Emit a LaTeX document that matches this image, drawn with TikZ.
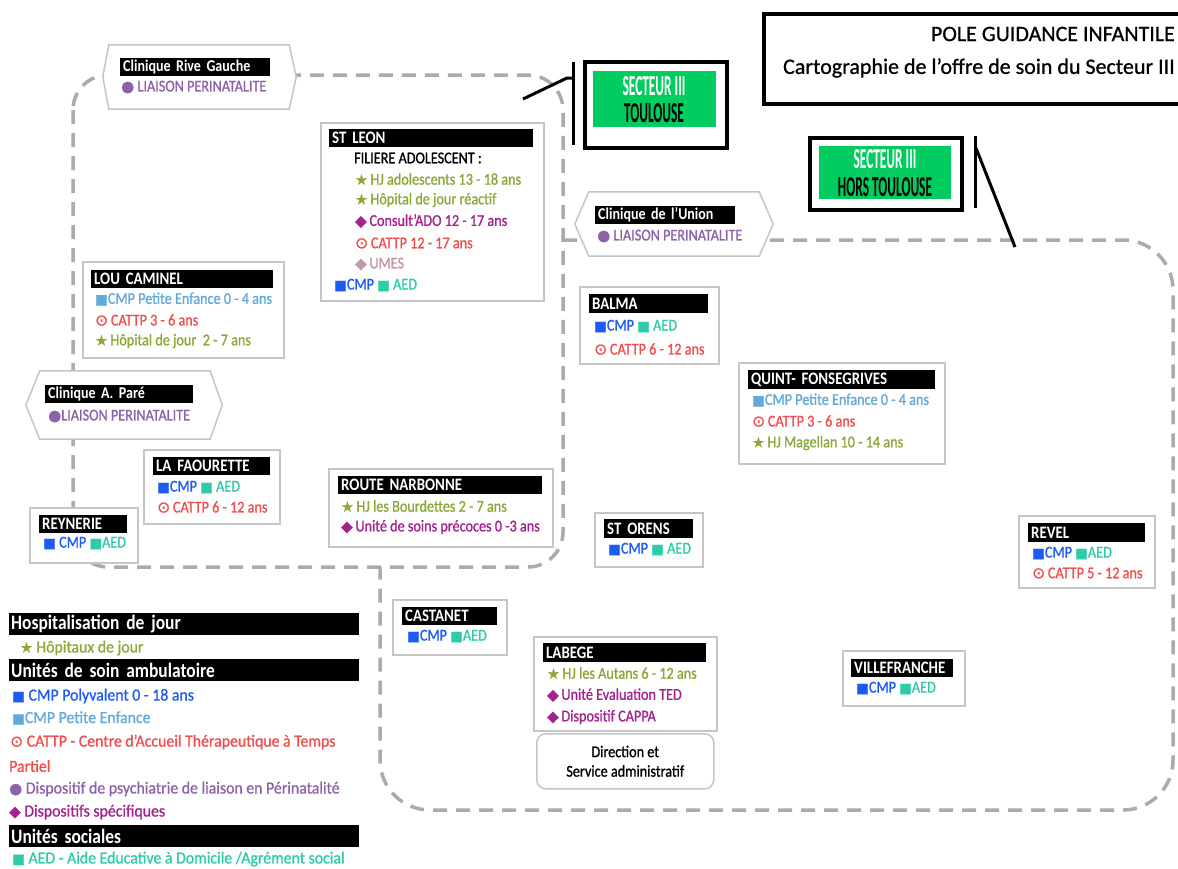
\documentclass[tikz,border=0pt]{standalone}
\usepackage{fontspec}
\setmainfont{Carlito}
\newfontfamily\itf{Carlito}[FakeStretch=0.86, FakeBold=1]
\newfontfamily\lgf{Carlito}[FakeStretch=0.93, FakeBold=1]
\newfontfamily\ttf{Carlito}[FakeBold=0.8]
\newfontfamily\hdf{Carlito}[FakeStretch=0.85]
\newfontfamily\secf{Carlito}[FakeStretch=0.46]
\newfontfamily\symf{DejaVu Sans}[FakeBold=1.2]
\newcommand\fz[1]{\fontsize{#1}{#1}\selectfont}
\newcommand\Ist{{\symf\fz{14}★}}
\newcommand\Isq{{\symf\fz{13.5}■}}
\newcommand\Idi{{\symf\fz{15}◆}}
\newcommand\Ici{{\symf\fz{15}●}}
\newcommand\Iod{{\symf\fz{15.5}⊙}}
\definecolor{hjg}{HTML}{8BA83A}
\definecolor{magc}{HTML}{A3238E}
\definecolor{redc}{HTML}{F04E4E}
\definecolor{umes}{HTML}{C496A9}
\definecolor{cmpb}{HTML}{1E5BF5}
\definecolor{aedc}{HTML}{2ECBA8}
\definecolor{peb}{HTML}{63A9DA}
\definecolor{liais}{HTML}{8C63A8}
\definecolor{boxg}{HTML}{C6C6C6}
\definecolor{dashg}{HTML}{ABABAB}
\definecolor{secg}{HTML}{00CC5F}
\newcommand\cmpaed{{\color{cmpb}\Isq CMP} {\color{aedc}\Isq\ AED}}
\tikzset{
  region/.style={draw=dashg, line width=3.5pt, dash pattern=on 14pt off 9pt},
  box/.style={draw=boxg, line width=1.5pt, fill=white, anchor=north west, inner sep=0pt},
  hdr/.style={fill=black, text=white, anchor=north west, inner xsep=3pt, inner ysep=0pt,
    minimum height=18pt, align=left, font=\hdf\bfseries\fz{17.5}},
  chdr/.style={hdr, font=\hdf\bfseries\fz{16.5}},
  lhdr/.style={fill=black, text=white, anchor=north west, inner xsep=2pt, inner ysep=0pt,
    minimum height=22pt, align=left, text width=346pt, font=\hdf\bfseries\fz{20.5}},
  it/.style={anchor=west, inner sep=0pt, font=\itf\fz{16.5}},
  lit/.style={anchor=west, inner sep=0pt, font=\lgf\fz{17}},
  hexn/.style={inner sep=0pt},
  hexb/.style={draw=boxg, line width=1.5pt, fill=white},
  frame/.style={draw=black, line width=4pt, fill=white, anchor=north west, inner sep=0pt},
  secbox/.style={fill=secg, anchor=north west, inner sep=0pt},
  sect/.style={inner sep=0pt, font=\secf\bfseries\fz{29}},
  bar/.style={line width=3pt, black}
}
\begin{document}
\begin{tikzpicture}[x=1pt,y=-1pt]
\useasboundingbox (0,0) rectangle (1178,868);
% ---------- dashed regions ----------
\draw[region, rounded corners=35pt] (73,75) rectangle (563,567);
\draw[region, rounded corners=50pt] (563,240) -- (1173,240) -- (1173,810) -- (380,810) -- (380,567);

% ---------- title ----------
\node[frame, minimum width=450pt, minimum height=90pt] (title) at (762,12) {};
\node[anchor=east, inner sep=0pt, font=\ttf\fz{22}] (t1) at (1175,34) {POLE GUIDANCE INFANTILE};
\node[anchor=east, inner sep=0pt, font=\ttf\fz{22}] (t2) at (1175,68) {Cartographie de l’offre de soin du Secteur III};

% ---------- secteur boxes ----------
\node[frame, minimum width=142pt, minimum height=86pt] (stl) at (583,60) {};
\node[secbox, minimum width=123pt, minimum height=56pt] (stlg) at (593,71) {};
\node[sect, text=white] (stl1) at (654,86) {SECTEUR III};
\node[sect, text=black] (stl2) at (654,113) {TOULOUSE};
\coordinate (tbt) at (573,62);
\coordinate (tbb) at (573,145);
\coordinate (tc1) at (523,99);
\coordinate (tc2) at (567,78);
\draw[bar] (tbt) -- (tbb);
\draw[bar] (tc1) -- (tc2) -- (tc2 -| tbt);

\node[frame, minimum width=152pt, minimum height=72pt] (sht) at (808,136) {};
\node[secbox, minimum width=132pt, minimum height=53pt] (shtg) at (819,146) {};
\node[sect, text=white] (sht1) at (885,159) {SECTEUR III};
\node[sect, text=black] (sht2) at (885,187) {HORS TOULOUSE};
\coordinate (hbt) at (975,136);
\coordinate (hbb) at (975,208);
\coordinate (hc1) at (976,148);
\coordinate (hc2) at (1015,247);
\draw[bar] (hbt) -- (hbb);
\draw[bar] (hc1) -- (hc2);

% ---------- hexagons (cliniques) ----------
\node[hexn, minimum width=193pt, minimum height=64pt] (rg) at (199.5,77) {};
\draw[hexb] (rg.west) -- ([xshift=6pt]rg.north west) -- ([xshift=-7pt]rg.north east) -- (rg.east)
  -- ([xshift=-7pt]rg.south east) -- ([xshift=6pt]rg.south west) -- cycle;
\node[chdr, text width=144pt] (rgh) at (120,58) {Clinique Rive Gauche};
\node[it, text=liais] (rgi) at (121,87) {\Ici\ LIAISON PERINATALITE};

\node[hexn, minimum width=198pt, minimum height=64pt] (un) at (674,224) {};
\draw[hexb] (un.west) -- ([xshift=14pt]un.north west) -- ([xshift=-14pt]un.north east) -- (un.east)
  -- ([xshift=-14pt]un.south east) -- ([xshift=14pt]un.south west) -- cycle;
\node[chdr, text width=134pt] (unh) at (595,206) {Clinique de l’Union};
\node[it, text=liais] (uni) at (597,236) {\Ici\ LIAISON PERINATALITE};

\node[hexn, minimum width=196pt, minimum height=68pt] (pa) at (124,405) {};
\draw[hexb] (pa.west) -- ([xshift=14pt]pa.north west) -- ([xshift=-12pt]pa.north east) -- (pa.east)
  -- ([xshift=-12pt]pa.south east) -- ([xshift=14pt]pa.south west) -- cycle;
\node[chdr, text width=142pt] (pah) at (45,385) {Clinique A. Paré};
\node[it, text=liais] (pai) at (48,416) {\Ici LIAISON PERINATALITE};

% ---------- ST LEON ----------
\node[box, minimum width=223pt, minimum height=178pt] (sl) at (320,122) {};
\node[hdr, text width=198pt] (slh) at (329,129) {ST LEON};
\node[it, text=black] (sl0) at (354,158) {FILIERE ADOLESCENT :};
\node[it, text=hjg] (sl1) at (355,179) {\Ist\,HJ adolescents 13 - 18 ans};
\node[it, text=hjg] (sl2) at (355,200) {\Ist\,Hôpital de jour réactif};
\node[it, text=magc] (sl3) at (355,221) {\Idi\,Consult’ADO 12 - 17 ans};
\node[it, text=redc] (sl4) at (355,243) {\Iod\,CATTP 12 - 17 ans};
\node[it, text=umes] (sl5) at (355,264) {\Idi\,UMES};
\node[it] (sl6) at (334,285) {\cmpaed};

% ---------- LOU CAMINEL ----------
\node[box, minimum width=201pt, minimum height=96pt] (lc) at (82,261) {};
\node[hdr, text width=176pt] (lch) at (91,270) {LOU CAMINEL};
\node[it, text=peb] (lc1) at (95,299) {\Isq CMP Petite Enfance 0 - 4 ans};
\node[it, text=redc] (lc2) at (95,320) {\Iod\,CATTP 3 - 6 ans};
\node[it, text=hjg] (lc3) at (95,341) {\Ist\,Hôpital de jour~ 2 - 7 ans};

% ---------- LA FAOURETTE ----------
\node[box, minimum width=136pt, minimum height=74pt] (lf) at (143,449) {};
\node[hdr, text width=111pt] (lfh) at (153,457) {LA FAOURETTE};
\node[it] (lf1) at (157,487) {\cmpaed};
\node[it, text=redc] (lf2) at (157,507) {\Iod\,CATTP 6 - 12 ans};

% ---------- REYNERIE ----------
\node[box, minimum width=108pt, minimum height=55pt] (rey) at (29,507) {};
\node[hdr, text width=82pt] (reyh) at (39,515) {REYNERIE};
\node[it] (rey1) at (43,543) {{\color{cmpb}\Isq\ CMP} {\color{aedc}\Isq AED}};

% ---------- ROUTE NARBONNE ----------
\node[box, minimum width=224pt, minimum height=78pt] (rn) at (328,468) {};
\node[hdr, text width=198pt] (rnh) at (338,476) {ROUTE NARBONNE};
\node[it, text=hjg] (rn1) at (341,506) {\Ist\,HJ les Bourdettes 2 - 7 ans};
\node[it, text=magc] (rn2) at (341,527) {\Idi\,Unité de soins précoces 0 -3 ans};

% ---------- BALMA ----------
\node[box, minimum width=139pt, minimum height=77pt] (ba) at (579,286) {};
\node[hdr, text width=113pt, minimum height=19pt] (bah) at (589,294) {BALMA};
\node[it] (ba1) at (594,326) {\cmpaed};
\node[it, text=redc] (ba2) at (594,349) {\Iod\,CATTP 6 - 12 ans};

% ---------- QUINT-FONSEGRIVES ----------
\node[box, minimum width=206pt, minimum height=101pt] (qf) at (738,362) {};
\node[hdr, text width=181pt, minimum height=19pt] (qfh) at (748,370) {QUINT- FONSEGRIVES};
\node[it, text=peb] (qf1) at (752,400) {\Isq CMP Petite Enfance 0 - 4 ans};
\node[it, text=redc] (qf2) at (752,421) {\Iod\,CATTP 3 - 6 ans};
\node[it, text=hjg] (qf3) at (752,443) {\Ist\,HJ Magellan 10 - 14 ans};

% ---------- ST ORENS ----------
\node[box, minimum width=108pt, minimum height=54pt] (so) at (594,512) {};
\node[hdr, text width=83pt, minimum height=19pt] (soh) at (604,519) {ST ORENS};
\node[it] (so1) at (608,549) {\cmpaed};

% ---------- REVEL ----------
\node[box, minimum width=136pt, minimum height=72pt] (rv) at (1018,515) {};
\node[hdr, text width=111pt, minimum height=19pt] (rvh) at (1028,523) {REVEL};
\node[it] (rv1) at (1032,553) {{\color{cmpb}\Isq CMP} {\color{aedc}\Isq AED}};
\node[it, text=redc] (rv2) at (1032,573) {\Iod\,CATTP 5 - 12 ans};

% ---------- CASTANET ----------
\node[box, minimum width=114pt, minimum height=55pt] (ca) at (392,599) {};
\node[hdr, text width=89pt] (cah) at (402,607) {CASTANET};
\node[it] (ca1) at (407,636) {{\color{cmpb}\Isq CMP} {\color{aedc}\Isq AED}};

% ---------- LABEGE ----------
\node[box, minimum width=183pt, minimum height=94pt] (lb) at (533,636) {};
\node[hdr, text width=157pt, minimum height=19pt] (lbh) at (543,643) {LABEGE};
\node[it, text=hjg] (lb1) at (547,673) {\Ist\,HJ les Autans 6 - 12 ans};
\node[it, text=magc] (lb2) at (547,695) {\Idi\,Unité Evaluation TED};
\node[it, text=magc] (lb3) at (547,717) {\Idi\,Dispositif CAPPA};

% ---------- Direction ----------
\node[box, rounded corners=9pt, minimum width=177pt, minimum height=55pt] (dir) at (536,733) {};
\node[inner sep=0pt, align=center, font=\itf\fz{16.5}, text=black] (dirt) at (dir.center) {Direction et\\[3pt]Service administratif};

% ---------- VILLEFRANCHE ----------
\node[box, minimum width=122pt, minimum height=55pt] (vf) at (842,650) {};
\node[hdr, text width=96pt] (vfh) at (851,659) {VILLEFRANCHE};
\node[it] (vf1) at (856,688) {{\color{cmpb}\Isq CMP} {\color{aedc}\Isq AED}};

% ---------- legend ----------
\node[lhdr] (lg1) at (9,613) {Hospitalisation de jour};
\node[lit, text=hjg] (lg1a) at (20,648) {\Ist\ Hôpitaux de jour};
\node[lhdr] (lg2) at (9,659) {Unités de soin ambulatoire};
\node[lit, text=cmpb] (lg2a) at (12,696) {\Isq\ CMP Polyvalent 0 - 18 ans};
\node[lit, text=peb] (lg2b) at (12,718) {\Isq CMP Petite Enfance};
\node[lit, text=redc] (lg2c) at (10,742) {\Iod\ CATTP - Centre d’Accueil Thérapeutique à Temps};
\node[lit, text=redc] (lg2d) at (9,766) {Partiel};
\node[lit, text=liais] (lg2e) at (9,789) {\Ici\ Dispositif de psychiatrie de liaison en Périnatalité};
\node[lit, text=magc] (lg2f) at (9,812) {\Idi\ Dispositifs spécifiques};
\node[lhdr] (lg3) at (9,825) {Unités sociales};
\node[lit, text=aedc] (lg3a) at (12,859) {\Isq\ AED - Aide Educative à Domicile /Agrément social};
\end{tikzpicture}
\end{document}
